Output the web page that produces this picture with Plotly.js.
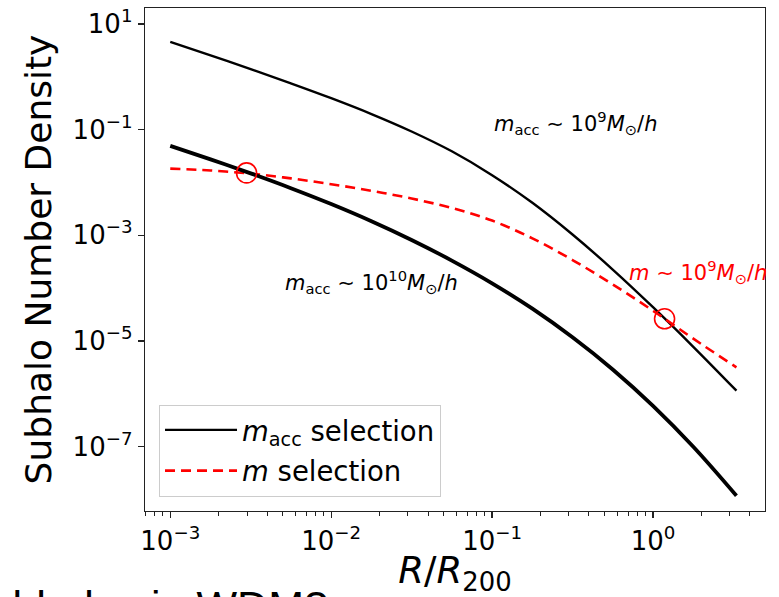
<!DOCTYPE html>
<html><head><meta charset="utf-8">
<script src="https://cdn.plot.ly/plotly-3.0.1.min.js"></script>
<style>html,body{margin:0;padding:0;background:#fff;}</style>
</head><body>
<div id="chart" style="width:779px;height:597px;"></div>
<script>
// Radius in units of R200
const R = [0.001, 0.00178, 0.00316, 0.00562, 0.01, 0.0178, 0.0316, 0.0562, 0.1, 0.178, 0.316, 0.562, 1.0, 1.78, 3.3];
// m_acc ~ 1e9 Msun/h (thin black)
const nAcc9 = [4.57, 2.54, 1.39, 0.746, 0.391, 0.196, 0.0918, 0.0387, 0.0137, 4.10e-3, 1.03e-3, 2.24e-4, 4.34e-5, 7.72e-6, 1.14e-6];
// m_acc ~ 1e10 Msun/h (thick black)
const nAcc10 = [0.0490, 0.0272, 0.0148, 7.76e-3, 3.89e-3, 1.84e-3, 8.13e-4, 3.31e-4, 1.23e-4, 4.07e-5, 1.17e-5, 2.88e-6, 5.89e-7, 9.89e-8, 1.17e-8];
// m ~ 1e9 Msun/h (red dashed)
const nM9 = [0.0182, 0.0168, 0.0146, 0.0119, 9.23e-3, 6.92e-3, 4.95e-3, 3.27e-3, 1.89e-3, 8.71e-4, 3.39e-4, 1.17e-4, 3.72e-5, 1.10e-5, 3.16e-6];
// crossing markers
const markR = [0.00298, 1.18];
const markN = [0.0151, 2.62e-5];
// ticks
const xTickVals = [0.001, 0.01, 0.1, 1];
const xTickText = ['10<sup>−3</sup>', '10<sup>−2</sup>', '10<sup>−1</sup>', '10<sup>0</sup>'];
const yTickVals = [10, 0.1, 1e-3, 1e-5, 1e-7];
const yTickText = ['10<sup>1</sup>', '10<sup>−1</sup>', '10<sup>−3</sup>', '10<sup>−5</sup>', '10<sup>−7</sup>'];

const F = 'DejaVu Sans, sans-serif';

const traces = [
  {x: R, y: nAcc9, mode: 'lines', line: {color: '#000', width: 2.4, shape: 'spline', smoothing: 1},
   name: '<i>m</i><sub>acc</sub> selection', legendgroup: 'a', showlegend: true},
  {x: R, y: nM9, mode: 'lines', line: {color: '#ff0000', width: 2.6, dash: '10px,6px', shape: 'spline', smoothing: 1},
   name: '<i>m</i> selection', legendgroup: 'b', showlegend: true},
  {x: R, y: nAcc10, mode: 'lines', line: {color: '#000', width: 3.8, shape: 'spline', smoothing: 1},
   legendgroup: 'a', showlegend: false},
  {x: markR, y: markN, mode: 'markers', marker: {symbol: 'circle-open', size: 20, color: '#ff0000', line: {width: 1.6, color: '#ff0000'}},
   legendgroup: 'c', showlegend: false}
];

const axisCommon = {
  type: 'log', showgrid: false, zeroline: false,
  showline: true, linecolor: '#222', linewidth: 1.3, mirror: true,
  ticks: 'outside', ticklen: 6, tickwidth: 1.3, tickcolor: '#222',
  tickmode: 'array', tickfont: {family: F, size: 26, color: '#000'}
};

const layout = {
  width: 779, height: 597,
  margin: {l: 145, r: 14, t: 8, b: 86},
  paper_bgcolor: '#fff', plot_bgcolor: '#fff',
  font: {family: F, color: '#000'},
  showlegend: true,
  xaxis: Object.assign({}, axisCommon, {
    range: [-3.157, 0.696], tickvals: xTickVals, ticktext: xTickText,
    minor: {ticks: 'outside', ticklen: 3.5, tickwidth: 1, tickcolor: '#222', dtick: 'D1', showgrid: false},
    title: {text: '<i>R</i>/<i>R</i><sub>200</sub>', font: {family: F, size: 37, color: '#000'}, standoff: 11}
  }),
  yaxis: Object.assign({}, axisCommon, {
    range: [-8.22, 1.30], tickvals: yTickVals, ticktext: yTickText,
    title: {text: 'Subhalo Number Density', font: {family: F, size: 36, color: '#000'}, standoff: 10}
  }),
  legend: {
    x: 0.0226, y: 0.0288, xanchor: 'left', yanchor: 'bottom',
    bgcolor: '#fff', bordercolor: '#cccccc', borderwidth: 1,
    font: {family: F, size: 27.5, color: '#000'}, itemwidth: 72,
    traceorder: 'grouped', tracegroupgap: 2
  },
  annotations: [
    {x: -0.48, y: -0.871, xref: 'x', yref: 'y', showarrow: false, xanchor: 'center', yanchor: 'middle',
     text: '<i>m</i><sub>acc</sub> ∼ 10<sup>9</sup><i>M</i><sub>⊙</sub>/<i>h</i>', font: {family: F, size: 21, color: '#000'}},
    {x: -1.747, y: -3.877, xref: 'x', yref: 'y', showarrow: false, xanchor: 'center', yanchor: 'middle',
     text: '<i>m</i><sub>acc</sub> ∼ 10<sup>10</sup><i>M</i><sub>⊙</sub>/<i>h</i>', font: {family: F, size: 21, color: '#000'}},
    {x: 0.279, y: -3.688, xref: 'x', yref: 'y', showarrow: false, xanchor: 'center', yanchor: 'middle',
     text: '<i>m</i> ∼ 10<sup>9</sup><i>M</i><sub>⊙</sub>/<i>h</i>', font: {family: F, size: 21, color: '#ff0000'}},
    {x: 0.2984, y: -0.138, xref: 'paper', yref: 'paper', showarrow: false, xanchor: 'right', yanchor: 'top',
     text: 'subhalos in WDM?', font: {family: 'Liberation Sans, Arial, sans-serif', size: 43, color: '#000'}}
  ]
};

Plotly.newPlot('chart', traces, layout, {displayModeBar: false, staticPlot: true});
</script>
</body></html>
